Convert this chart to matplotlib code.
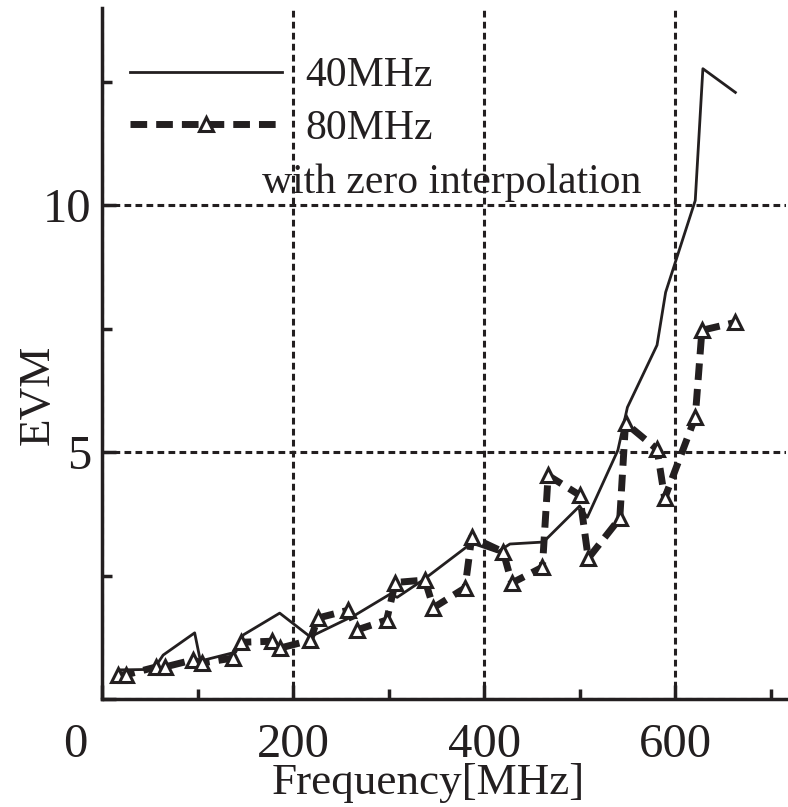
import matplotlib
matplotlib.use("Agg")
import matplotlib.pyplot as plt
from matplotlib.transforms import ScaledTranslation

plt.rcParams['font.family'] = ['Liberation Serif', 'DejaVu Serif']
plt.rcParams['mathtext.fontset'] = 'stix'

# 40 MHz (solid)
freq_40 = [19, 54, 64, 97, 103, 140, 148, 186, 218, 265, 302, 309, 336, 387,
           414, 427, 462, 500, 508, 540, 550, 581, 590, 621, 629, 663]
evm_40 = [0.59, 0.60, 0.89, 1.34, 0.77, 0.95, 1.30, 1.74, 1.26, 1.70, 2.13, 2.06,
          2.41, 3.16, 2.98, 3.14, 3.18, 3.91, 3.68, 5.04, 5.91, 7.17, 8.24, 10.10,
          12.77, 12.29]

# 80 MHz with zero interpolation (dashed, triangles)
freq_80 = [17, 25, 57, 66, 95, 105, 137, 146, 178, 186, 218, 226, 258, 267, 298,
           307, 338, 347, 380, 387, 420, 429, 461, 467, 500, 509, 542, 548, 581,
           589, 621, 628, 663]
evm_80 = [0.49, 0.49, 0.65, 0.65, 0.79, 0.73, 0.83, 1.15, 1.17, 1.03, 1.19, 1.64,
          1.80, 1.40, 1.60, 2.36, 2.41, 1.85, 2.25, 3.28, 2.98, 2.35, 2.67, 4.53,
          4.13, 2.85, 3.66, 5.59, 5.06, 4.07, 5.71, 7.47, 7.63]

x_major = [0, 200, 400, 600]
x_labels = ['0', '200', '400', '600']
x_minor = [100, 300, 500, 700]
y_major = [0, 5, 10]
y_labels = ['', '5', '10']
y_minor = [2.5, 7.5, 12.5]

ink = '#231f20'

fig = plt.figure(figsize=(7.88, 8.07), dpi=100)
ax = fig.add_axes([102/788, 1-699/807, 684/788, 691/807])

ax.plot(freq_40, evm_40, color=ink, lw=2.0, label='40MHz')
ax.plot(freq_80, evm_80, color=ink, lw=5, dashes=(2.4, 1.3),
        marker='^', ms=10.5, mfc='white', mec=ink, mew=2.2,
        label='80MHz')

ax.set_xlim(0, 716)
ax.set_ylim(0, 14)
ax.set_xticks(x_major)
ax.set_xticklabels(x_labels)
ax.set_xticks(x_minor, minor=True)
ax.set_yticks(y_major)
ax.set_yticklabels(y_labels)
ax.set_yticks(y_minor, minor=True)

ax.grid(True, which='major', color=ink, lw=2.2, ls=(0, (2.2, 1.4)))
ax.set_axisbelow(True)

for s in ['top', 'right']:
    ax.spines[s].set_visible(False)
for s in ['left', 'bottom']:
    ax.spines[s].set_linewidth(2.5)
    ax.spines[s].set_color(ink)

ax.tick_params(which='both', direction='in', color=ink, width=2.5,
               labelsize=35, labelcolor=ink)
ax.tick_params(which='major', length=10)
ax.tick_params(which='minor', length=7)
ax.tick_params(axis='x', pad=17)
ax.tick_params(axis='y', pad=8)

# shift the "0" label left as in the reference
lbl0 = ax.get_xticklabels()[0]
lbl0.set_transform(lbl0.get_transform() + ScaledTranslation(-27/100, 0, fig.dpi_scale_trans))

ax.set_xlabel('Frequency[MHz]', fontsize=32.5, color=ink)
ax.set_ylabel('EVM', fontsize=32.5, color=ink)
ax.xaxis.set_label_coords(0.477, -0.093)
ax.yaxis.set_label_coords(-0.065, 0.44)

leg = ax.legend(loc='upper left', bbox_to_anchor=(130/788, 1-57/807),
                bbox_transform=fig.transFigure, frameon=False, fontsize=30,
                handlelength=3.65, handletextpad=0.55, borderpad=0,
                borderaxespad=0, labelspacing=0.33, numpoints=1)
for t in leg.get_texts():
    t.set_color(ink)

ax.text(168, 10.45, 'with zero interpolation', fontsize=30, color=ink,
        va='center', ha='left')

fig.savefig('out.png', dpi=100)
